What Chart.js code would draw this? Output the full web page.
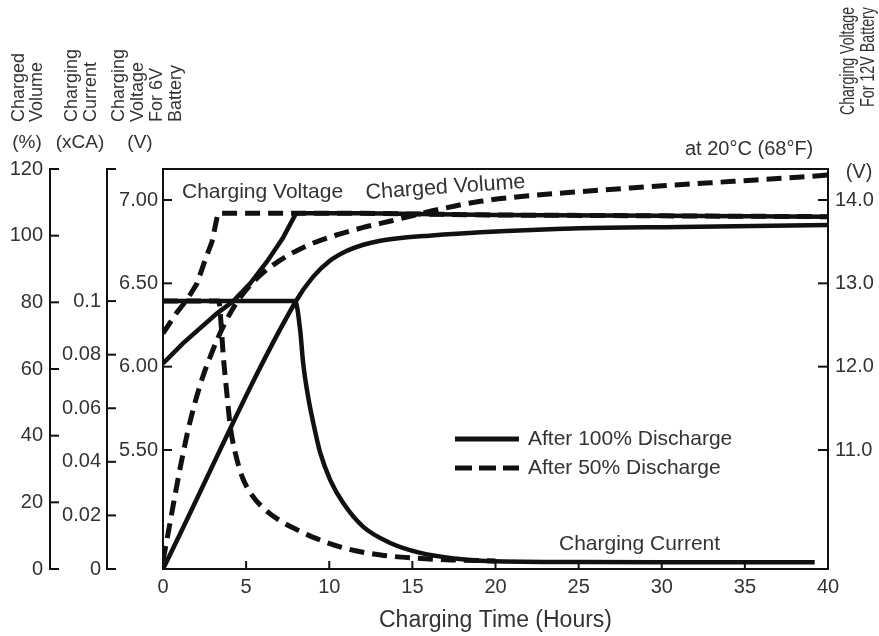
<!DOCTYPE html>
<html><head><meta charset="utf-8">
<script src="https://cdn.jsdelivr.net/npm/chart.js@4.4.0/dist/chart.umd.min.js"></script>
<style>html,body{margin:0;padding:0;background:#fff}#wrap{width:879px;height:636px;position:relative}</style>
</head><body><div id="wrap"><canvas id="c"></canvas></div>
<script>
// ---- data ----
const volt100Hours  = [0, 1.2, 3.25, 4.2, 5.25, 6.25, 7.2, 8.0, 12, 20, 30, 40];
const volt100Values = [6.02, 6.14, 6.32, 6.39, 6.50, 6.63, 6.77, 6.92, 6.92, 6.91, 6.905, 6.90];
const volt50Hours   = [0, 0.8, 1.5, 2.05, 2.5, 2.95, 3.3, 8.0, 12, 20, 30, 40];
const volt50Values  = [6.20, 6.32, 6.41, 6.50, 6.63, 6.75, 6.92, 6.92, 6.92, 6.91, 6.905, 6.90];
const vol100Hours   = [0, 8.0, 9.0, 10.0, 11.0, 12.0, 13.0, 14.3, 16.0, 19.1, 25.1, 31.1, 40];
const vol100Values  = [0, 80.4, 87.5, 92.3, 95.3, 97.2, 98.4, 99.3, 100.0, 101.0, 102.2, 102.6, 103.2];
const vol50Hours    = [0, 0.3, 0.7, 1.1, 1.5, 1.9, 2.35, 2.85, 3.3, 3.85, 4.35, 4.95, 5.55, 6.3, 7.6, 8.9, 10.5, 12, 13.7, 16.7, 19.1, 22.1, 25.1, 28.1, 30.5, 34.3, 38.4, 40];
const vol50Values   = [2.5, 10.5, 21.5, 32, 41.5, 49.5, 57, 63.8, 69.3, 75, 79.3, 83.4, 86.7, 90, 94.3, 97.5, 100.3, 102.4, 104.4, 108, 110.3, 112, 113.2, 114.3, 115.1, 116.3, 117.6, 118.2];
const cur100Hours   = [0, 4, 7.95, 8.25, 8.43, 8.73, 9.04, 9.46, 10.06, 10.84, 12.05, 13.67, 15.48, 17.7, 19.1, 25, 30, 39.2];
const cur100Values  = [0.1, 0.1, 0.1, 0.0892, 0.0769, 0.0642, 0.0545, 0.0433, 0.0332, 0.0246, 0.0157, 0.0097, 0.006, 0.0038, 0.0031, 0.0026, 0.0025, 0.0025];
const cur50Hours    = [0, 2, 3.35, 3.5, 3.62, 3.85, 4.05, 4.35, 4.77, 5.36, 6.14, 7.05, 8.07, 9.04, 11.1, 13.1, 15.1, 17.3, 20];
const cur50Values   = [0.1, 0.1, 0.1, 0.091, 0.08, 0.065, 0.053, 0.0433, 0.0343, 0.0275, 0.0222, 0.018, 0.0146, 0.0118, 0.0075, 0.0052, 0.0041, 0.0034, 0.003];

const xTicks      = [0, 5, 10, 15, 20, 25, 30, 35, 40];
const volTicks    = [0, 20, 40, 60, 80, 100, 120];
const curTicks    = [0, 0.02, 0.04, 0.06, 0.08, 0.1];
const curLabels   = ['0', '0.02', '0.04', '0.06', '0.08', '0.1'];
const v6Ticks     = [5.5, 6.0, 6.5, 7.0];
const v6Labels    = ['5.50', '6.00', '6.50', '7.00'];
const v12Ticks    = [11, 12, 13, 14];
const v12Labels   = ['11.0', '12.0', '13.0', '14.0'];
const legendLabels = ['After 100% Discharge', 'After 50% Discharge'];

const FONT = '"Liberation Sans", Arial, Helvetica, sans-serif';
const INK = '#111';
const TXT = '#333';
const DASH = [15, 8];

function pts(h, v) { return h.map((x, i) => ({ x: x, y: v[i] })); }
function ds(label, h, v, axis, dashed, mono) {
  return {
    label: label, data: pts(h, v), yAxisID: axis,
    borderColor: INK, backgroundColor: INK, borderWidth: dashed ? 5 : 4.5,
    borderDash: dashed ? DASH : [], pointRadius: 0, fill: false,
    tension: mono ? 0.4 : 0, cubicInterpolationMode: mono ? 'monotone' : 'default',
    borderCapStyle: 'butt', borderJoinStyle: 'miter'
  };
}

function txt(ctx, s, x, y, size, align, base, maxW) {
  ctx.font = size + 'px ' + FONT;
  ctx.textAlign = align; ctx.textBaseline = base;
  if (maxW) ctx.fillText(s, x, y, maxW); else ctx.fillText(s, x, y);
}
function line(ctx, x1, y1, x2, y2) { ctx.beginPath(); ctx.moveTo(x1, y1); ctx.lineTo(x2, y2); ctx.stroke(); }

const decor = {
  id: 'decor',
  afterDraw(chart) {
    const ctx = chart.ctx, a = chart.chartArea, s = chart.scales;
    ctx.save();
    ctx.strokeStyle = INK; ctx.fillStyle = TXT; ctx.lineWidth = 2;
    ctx.setLineDash([]);
    // frame
    ctx.strokeRect(a.left, a.top, a.right - a.left, a.bottom - a.top);
    // x axis ticks (inward) + labels
    xTicks.forEach(v => {
      const px = s.x.getPixelForValue(v);
      line(ctx, px, a.bottom, px, a.bottom - 8);
      txt(ctx, String(v), px, a.bottom + 18, 20, 'center', 'middle');
    });
    txt(ctx, 'Charging Time (Hours)', (a.left + a.right) / 2, a.bottom + 52, 23, 'center', 'middle');
    // Charged volume axis
    const xv = 50;
    line(ctx, xv, a.top, xv, a.bottom);
    volTicks.forEach(v => {
      const py = s.yVol.getPixelForValue(v);
      line(ctx, xv - 1, py, xv + 9, py);
      txt(ctx, String(v), xv - 7, py, 20, 'right', 'middle');
    });
    // Charging current axis
    const xc = 107;
    line(ctx, xc, a.top, xc, a.bottom);
    line(ctx, xc - 1, a.top, xc + 9, a.top);
    curTicks.forEach((v, i) => {
      const py = s.yCur.getPixelForValue(v);
      line(ctx, xc - 1, py, xc + 9, py);
      txt(ctx, curLabels[i], xc - 6, py, 20, 'right', 'middle');
    });
    // 6V voltage axis (plot left border, inward ticks)
    v6Ticks.forEach((v, i) => {
      const py = s.yV6.getPixelForValue(v);
      line(ctx, a.left, py, a.left + 9, py);
      txt(ctx, v6Labels[i], a.left - 5, py, 20, 'right', 'middle');
    });
    // 12V voltage axis (plot right border, inward ticks)
    v12Ticks.forEach((v, i) => {
      const py = s.yV12.getPixelForValue(v);
      line(ctx, a.right, py, a.right - 10, py);
      txt(ctx, v12Labels[i], a.right + 7, py, 20, 'left', 'middle');
    });
    // units
    txt(ctx, '(%)', 27, 143, 19, 'center', 'middle');
    txt(ctx, '(xCA)', 80, 143, 19, 'center', 'middle');
    txt(ctx, '(V)', 140, 143, 19, 'center', 'middle');
    txt(ctx, '(V)', 859, 172, 20, 'center', 'middle');
    txt(ctx, 'at 20\u00B0C (68\u00B0F)', 685, 149, 20, 'left', 'middle');
    // rotated axis titles (left)
    const leftTitles = [
      ['Charged', 24], ['Volume', 42],
      ['Charging', 77], ['Current', 96],
      ['Charging', 124], ['Voltage', 143], ['For 6V', 162], ['Battery', 181]
    ];
    leftTitles.forEach(t => {
      ctx.save(); ctx.translate(t[1], 122); ctx.rotate(-Math.PI / 2);
      txt(ctx, t[0], 0, 0, 18, 'left', 'alphabetic'); ctx.restore();
    });
    // rotated right title
    [['Charging Voltage', 854, 108], ['For 12V Battery', 874, 100]].forEach(t => {
      ctx.save(); ctx.translate(t[1], 7); ctx.rotate(-Math.PI / 2);
      txt(ctx, t[0], 0, 0, 21, 'right', 'alphabetic', t[2]); ctx.restore();
    });
    // curve annotations
    txt(ctx, 'Charging Voltage', 182, 192, 21, 'left', 'middle');
    ctx.save(); ctx.translate(366, 199); ctx.rotate(-4 * Math.PI / 180);
    txt(ctx, 'Charged Volume', 0, 0, 21.5, 'left', 'alphabetic'); ctx.restore();
    txt(ctx, 'Charging Current', 559, 544, 21, 'left', 'middle');
    // legend
    const ly = [439, 468];
    legendLabels.forEach((lab, i) => {
      ctx.save(); ctx.lineWidth = 5; ctx.strokeStyle = INK;
      ctx.setLineDash(i === 0 ? [] : [17, 7]);
      line(ctx, 455, ly[i], 519, ly[i]); ctx.restore();
      txt(ctx, lab, 528, ly[i], 21, 'left', 'middle');
    });
    ctx.restore();
  }
};

new Chart(document.getElementById('c'), {
  type: 'line',
  data: {
    datasets: [
      ds('Charging Voltage (100%)', volt100Hours, volt100Values, 'yV6', false, false),
      ds('Charged Volume (100%)', vol100Hours, vol100Values, 'yVol', false, true),
      ds('Charging Current (100%)', cur100Hours, cur100Values, 'yCur', false, true),
      ds('Charging Voltage (50%)', volt50Hours, volt50Values, 'yV6', true, false),
      ds('Charged Volume (50%)', vol50Hours, vol50Values, 'yVol', true, true),
      ds('Charging Current (50%)', cur50Hours, cur50Values, 'yCur', true, true)
    ]
  },
  options: {
    responsive: true, maintainAspectRatio: false, animation: false, devicePixelRatio: 1,
    layout: { padding: { left: 163, right: 51, top: 169, bottom: 67 } },
    plugins: { legend: { display: false }, tooltip: { enabled: false } },
    scales: {
      x: { type: 'linear', min: 0, max: 40, display: false },
      yVol: { type: 'linear', min: 0, max: 120, display: false },
      yCur: { type: 'linear', min: 0, max: 0.1493, display: false },
      yV6: { type: 'linear', min: 4.786, max: 7.186, display: false },
      yV12: { type: 'linear', min: 9.572, max: 14.372, display: false }
    }
  },
  plugins: [decor]
});
</script>
</body></html>
